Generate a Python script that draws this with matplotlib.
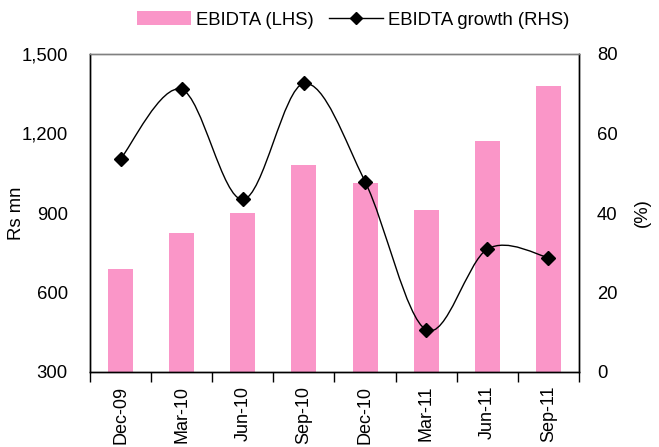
import matplotlib.pyplot as plt
import numpy as np
from matplotlib.path import Path
from matplotlib.patches import PathPatch
from matplotlib.lines import Line2D
from matplotlib.patches import Patch
from matplotlib.ticker import FuncFormatter

quarters = ['Dec-09', 'Mar-10', 'Jun-10', 'Sep-10', 'Dec-10', 'Mar-11', 'Jun-11', 'Sep-11']
ebidta = [688, 825, 900, 1081, 1012, 911, 1170, 1380]          # Rs mn
growth = [53.6, 71.1, 43.4, 72.6, 47.9, 10.6, 30.9, 28.8]      # %

PINK = '#fa96c8'
plt.rcParams['font.family'] = ['Liberation Sans', 'DejaVu Sans']
FS = 13.3

fig = plt.figure(figsize=(6.59, 4.47), dpi=100)
ax = fig.add_axes([90 / 659, 1 - 372 / 447, 489 / 659, 318 / 447])
ax2 = ax.twinx()

x = np.arange(len(quarters))
ax.bar(x, ebidta, width=0.41, color=PINK, zorder=2)
ax.set_xlim(-0.5, len(quarters) - 0.5)
ax.set_ylim(300, 1500)
ax.set_yticks([300, 600, 900, 1200, 1500])
ax.yaxis.set_major_formatter(FuncFormatter(lambda v, p: f'{v:,.0f}'))
ax.set_xticks(x)
ax.set_xticklabels(quarters, rotation=90)
ax.set_xticks(np.arange(-0.5, len(quarters)), minor=True)
ax.tick_params(axis='x', which='major', length=0, pad=10, labelsize=13)
ax.tick_params(axis='x', which='minor', length=7, width=1, direction='out')
ax.tick_params(axis='y', length=0, pad=16, labelsize=FS)
ax.set_ylabel('Rs mn', fontsize=FS)
ax.yaxis.set_label_coords(-65 / 489, 0.5)

# smoothed growth line: cubic bezier segments through the points
pts = np.column_stack([x, growth])
ext = np.vstack([pts[0], pts, pts[-1]])
verts = [pts[0]]
codes = [Path.MOVETO]
for i in range(len(pts) - 1):
    p0, p1, p2, p3 = ext[i], ext[i + 1], ext[i + 2], ext[i + 3]
    verts += [p1 + (p2 - p0) / 6, p2 - (p3 - p1) / 6, p2]
    codes += [Path.CURVE4] * 3
ax2.add_patch(PathPatch(Path(verts, codes), fill=False, edgecolor='black', lw=1.0, zorder=3))
ax2.plot(x, growth, linestyle='none', marker='D', markersize=7, color='black', zorder=4)
ax2.set_ylim(0, 80)
ax2.set_yticks([0, 20, 40, 60, 80])
ax2.tick_params(axis='y', length=0, pad=13, labelsize=FS)
ax2.set_ylabel('(%)', fontsize=FS, rotation=90)
ax2.yaxis.set_label_coords(1 + 55 / 489, 0.5)

ax.set_zorder(ax2.get_zorder() - 1)
ax2.patch.set_visible(False)
for a in (ax, ax2):
    for s in a.spines.values():
        s.set_color('black')
        s.set_linewidth(1.0)
    a.spines['top'].set_color('#808080')

handles = [Patch(facecolor=PINK, edgecolor='none'),
           Line2D([], [], color='black', lw=1.0, marker='D', markersize=6)]
fig.legend(handles, ['EBIDTA (LHS)', 'EBIDTA growth (RHS)'], loc='center',
           bbox_to_anchor=(353 / 659, 1 - 20 / 447), ncol=2, frameon=False,
           fontsize=FS, handlelength=2.9, handleheight=0.75, handletextpad=0.27,
           columnspacing=0.85, borderpad=0)

fig.savefig('out.png', dpi=100)
